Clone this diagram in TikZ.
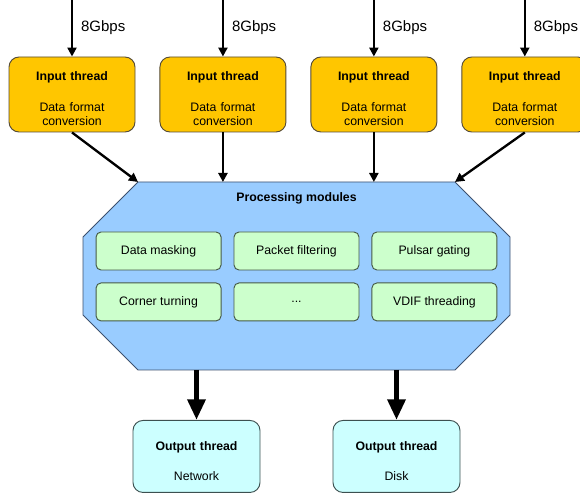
\documentclass[tikz,border=0pt]{standalone}
\usepackage{fontspec}
\setmainfont{Liberation Sans}
\usepackage{xcolor}
\usepackage{tikz}
\usetikzlibrary{arrows.meta,positioning,calc}

\definecolor{threadfill}{RGB}{255,198,0}
\definecolor{threadline}{RGB}{85,75,55}
\definecolor{procfill}{RGB}{153,204,255}
\definecolor{procline}{RGB}{60,80,110}
\definecolor{modfill}{RGB}{204,255,204}
\definecolor{modline}{RGB}{70,90,70}
\definecolor{outfill}{RGB}{204,255,255}
\definecolor{outborder}{RGB}{60,80,80}

% empty first line, pushes the box text a little down
\newcommand{\topgap}{\mbox{}\\[0.1cm]}

\begin{document}
\begin{tikzpicture}[
    node distance=0.72cm,
    base/.style={font=\fontsize{10.5}{12}\selectfont},
    inbox/.style={base, rectangle, draw=threadline, line width=0.8pt, fill=threadfill, rounded corners=0.3cm, minimum width=3.78cm, minimum height=2.25cm, text width=3.5cm, align=center},
    outbox/.style={base, rectangle, draw=outborder, line width=0.8pt, fill=outfill, rounded corners=0.3cm, minimum width=3.81cm, minimum height=2.16cm, text width=3.5cm, align=center},
    modbox/.style={base, rectangle, draw=modline, line width=0.8pt, fill=modfill, rounded corners=0.15cm, minimum width=3.75cm, minimum height=1.14cm, align=center},
    procarea/.style={rectangle, minimum width=12.81cm, minimum height=5.64cm, inner sep=0pt, outer sep=0pt},
    octo/.style={draw=procline, line width=0.8pt, fill=procfill},
    rate/.style={font=\fontsize{12.8}{14}\selectfont},
    arrow/.style={-{Triangle[length=0.27cm, width=0.27cm]}, line width=2pt},
    bigarrow/.style={-{Triangle[length=0.62cm, width=0.52cm]}, line width=4.6pt}
]
\useasboundingbox (0,0) rectangle (17.4,-14.82);

% Input threads
\node[inbox] (in1) at (2.16,-2.835) {\topgap\textbf{Input thread}\\[0.5cm]Data format\\conversion};
\node[inbox, right=of in1] (in2) {\topgap\textbf{Input thread}\\[0.5cm]Data format\\conversion};
\node[inbox, right=of in2] (in3) {\topgap\textbf{Input thread}\\[0.5cm]Data format\\conversion};
\node[inbox, right=of in3] (in4) {\topgap\textbf{Input thread}\\[0.5cm]Data format\\conversion};

% Incoming data streams
\coordinate[above=1.71cm of in1.north] (src1);
\coordinate[above=1.71cm of in2.north] (src2);
\coordinate[above=1.71cm of in3.north] (src3);
\coordinate[above=1.71cm of in4.north] (src4);
\draw[arrow] (src1) -- (in1) node[rate, midway, right, xshift=0.12cm] {8Gbps};
\draw[arrow] (src2) -- (in2) node[rate, midway, right, xshift=0.12cm] {8Gbps};
\draw[arrow] (src3) -- (in3) node[rate, midway, right, xshift=0.12cm] {8Gbps};
\draw[arrow] (src4) -- (in4) node[rate, midway, right, xshift=0.12cm] {8Gbps};

% Processing block
\node[procarea] (proc) at (8.895,-8.28) {};
\coordinate (pnw) at ($(proc.north west)+(1.65,0)$);
\coordinate (pne) at ($(proc.north east)+(-1.65,0)$);
\draw[octo] (pnw) -- (pne) -- ($(proc.north east)+(0,-1.65)$) -- ($(proc.south east)+(0,1.65)$)
    -- ($(proc.south east)+(-1.65,0)$) -- ($(proc.south west)+(1.65,0)$)
    -- ($(proc.south west)+(0,1.65)$) -- ($(proc.north west)+(0,-1.65)$) -- cycle;
\node[base, font=\fontsize{10.5}{12}\selectfont\bfseries] (ptitle) at ($(proc.north)+(0,-0.48)$) {Processing modules};

% Modules
\node[modbox] (filter) at ($(proc.center)+(0,0.75)$) {Packet filtering};
\node[modbox, left=0.36cm of filter] (masking) {Data masking};
\node[modbox, right=0.36cm of filter] (gating) {Pulsar gating};
\node[modbox, below=0.36cm of masking] (corner) {Corner turning};
\node[modbox, below=0.36cm of filter] (more) {...};
\node[modbox, below=0.36cm of gating] (vdif) {VDIF threading};

\draw[arrow] (in1.south) -- (pnw);
\draw[arrow] (in2) -- (in2 |- proc.north);
\draw[arrow] (in3) -- (in3 |- proc.north);
\draw[arrow] (in4.south) -- (pne);

% Output threads
\node[outbox, below=1.5cm of proc, xshift=-3cm] (out1) {\topgap\textbf{Output thread}\\[0.48cm]Network};
\node[outbox, below=1.5cm of proc, xshift=3cm] (out2) {\topgap\textbf{Output thread}\\[0.48cm]Disk};

\draw[bigarrow] (proc.south -| out1) -- (out1);
\draw[bigarrow] (proc.south -| out2) -- (out2);

\end{tikzpicture}
\end{document}
